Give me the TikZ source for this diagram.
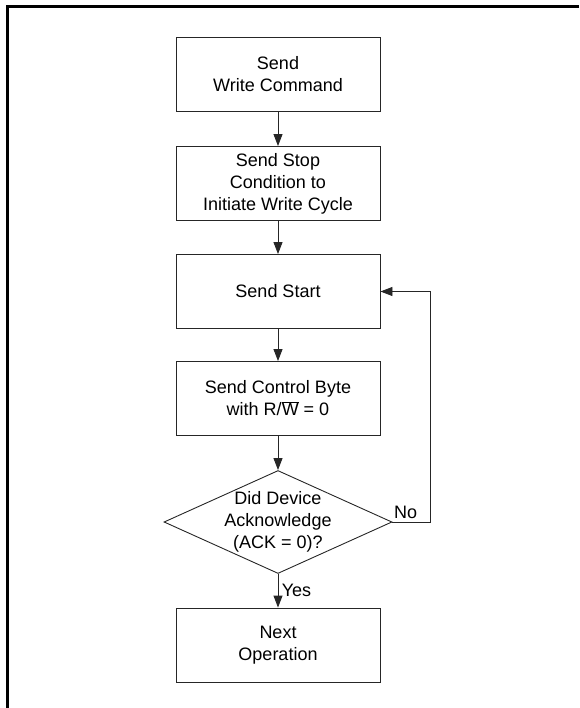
\documentclass[tikz,border=0pt]{standalone}
\usepackage{fontspec}
\setmainfont{Liberation Sans}
\usetikzlibrary{positioning, shapes.geometric, arrows.meta}

\begin{document}
\begin{tikzpicture}[x=1pt,y=-1pt,
    font=\fontsize{18}{22}\selectfont,
    box/.style={draw=black!85, line width=0.9pt, minimum width=204pt, minimum height=74pt, inner sep=0pt, align=center},
    decision/.style={draw=black!85, line width=0.9pt, diamond, aspect=2.21, minimum width=228pt, minimum height=103pt, inner xsep=-10pt, inner ysep=0pt, align=center},
    flow/.style={draw=black!85, line width=0.9pt, -{Triangle[length=12pt,width=9pt]}}]
    \useasboundingbox (0,0) rectangle (579,708);
    \draw[line width=3pt] (579,7)--(7,7)--(7,708);
    \node[box] (wcmd) at (278,74) {Send\\Write Command};
    \node[box] (stop) at (278,183.5) {Send Stop\\Condition to\\Initiate Write Cycle};
    \node[box] (start) at (278,291.5) {Send Start};
    \node[box] (ctrl) at (278,398.5) {Send Control Byte\\with R/$\overline{\hbox{W}}$ = 0};
    \node[decision] (ack) at (278,522) {Did Device\\Acknowledge\\(ACK = 0)?};
    \node[box] (next) at (278,645) {Next\\Operation};
    \coordinate (loop) at (430,522);
    \draw[flow] (wcmd)--(stop);
    \draw[flow] (stop)--(start);
    \draw[flow] (start)--(ctrl);
    \draw[flow] (ctrl)--(ack);
    \draw[flow] (ack.east)--node[pos=0.35,above]{No} (loop) |- (start.east);
    \draw[flow] (ack)--node[right]{Yes} (next);
\end{tikzpicture}
\end{document}
